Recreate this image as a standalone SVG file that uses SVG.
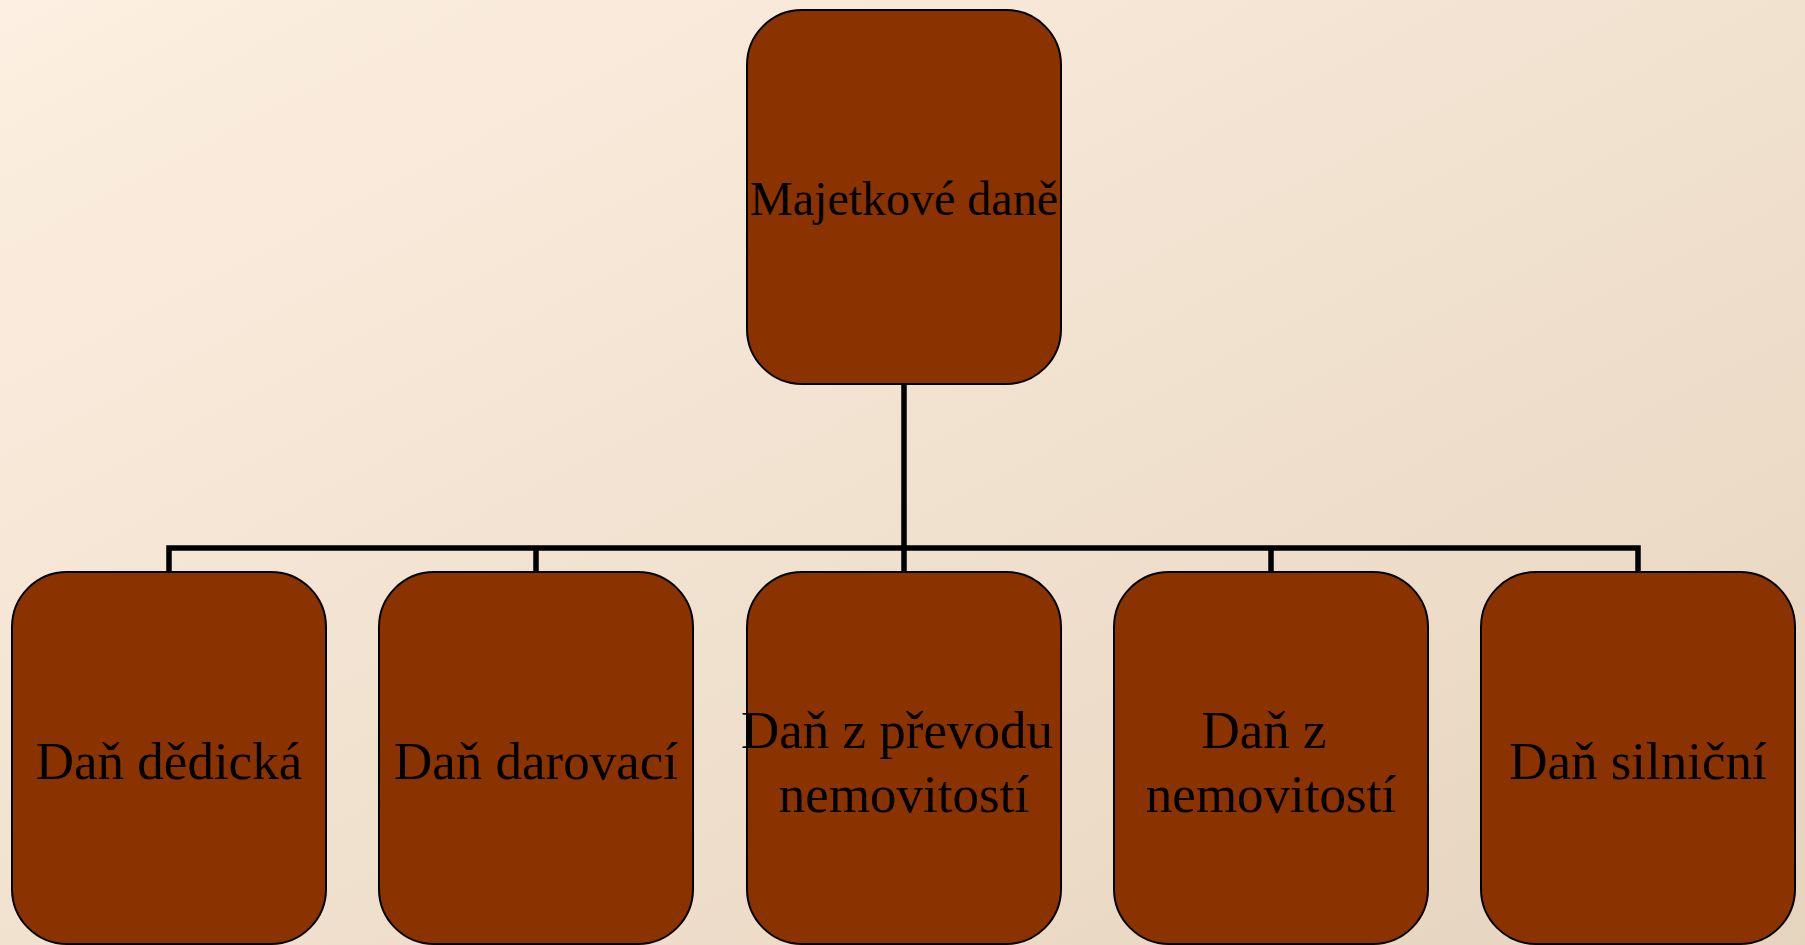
<svg xmlns="http://www.w3.org/2000/svg" width="1805" height="945" viewBox="0 0 1805 945">
<defs>
<linearGradient id="bg" x1="0" y1="0" x2="1" y2="1">
<stop offset="0" stop-color="#FDEFE1"/>
<stop offset="1" stop-color="#E5D4BE"/>
</linearGradient>
</defs>
<style>
.node rect{fill:#8A3300;stroke:#000;stroke-width:2}
.node text{font-family:"Liberation Serif","Times New Roman",serif;fill:#000;text-anchor:middle}
.conn{fill:none;stroke:#000;stroke-width:5.5}
</style>
<rect x="0" y="0" width="1805" height="945" fill="url(#bg)"/>
<g id="connectors">
<path class="conn" d="M904 384 V548"/>
<path class="conn" d="M169 572 V548 H1638 V572"/>
<path class="conn" d="M536 548 V572"/>
<path class="conn" d="M904 548 V572"/>
<path class="conn" d="M1271 548 V572"/>
</g>
<g id="n0" class="node">
<rect x="747" y="10" width="314" height="374" rx="55"/>
<text x="904" y="215" font-size="48">Majetkové daně</text>
</g>
<g id="n1" class="node">
<rect x="12" y="572" width="314" height="372" rx="55"/>
<text x="169" y="779" font-size="53">Daň dědická</text>
</g>
<g id="n2" class="node">
<rect x="379" y="572" width="314" height="372" rx="55"/>
<text x="536" y="779" font-size="53">Daň darovací</text>
</g>
<g id="n3" class="node">
<rect x="747" y="572" width="314" height="372" rx="55"/>
<text x="897" y="748" font-size="53">Daň z převodu</text>
<text x="904" y="812" font-size="53">nemovitostí</text>
</g>
<g id="n4" class="node">
<rect x="1114" y="572" width="314" height="372" rx="55"/>
<text x="1264" y="748" font-size="53">Daň z</text>
<text x="1271" y="812" font-size="53">nemovitostí</text>
</g>
<g id="n5" class="node">
<rect x="1481" y="572" width="314" height="372" rx="55"/>
<text x="1638" y="779" font-size="53">Daň silniční</text>
</g>
</svg>
